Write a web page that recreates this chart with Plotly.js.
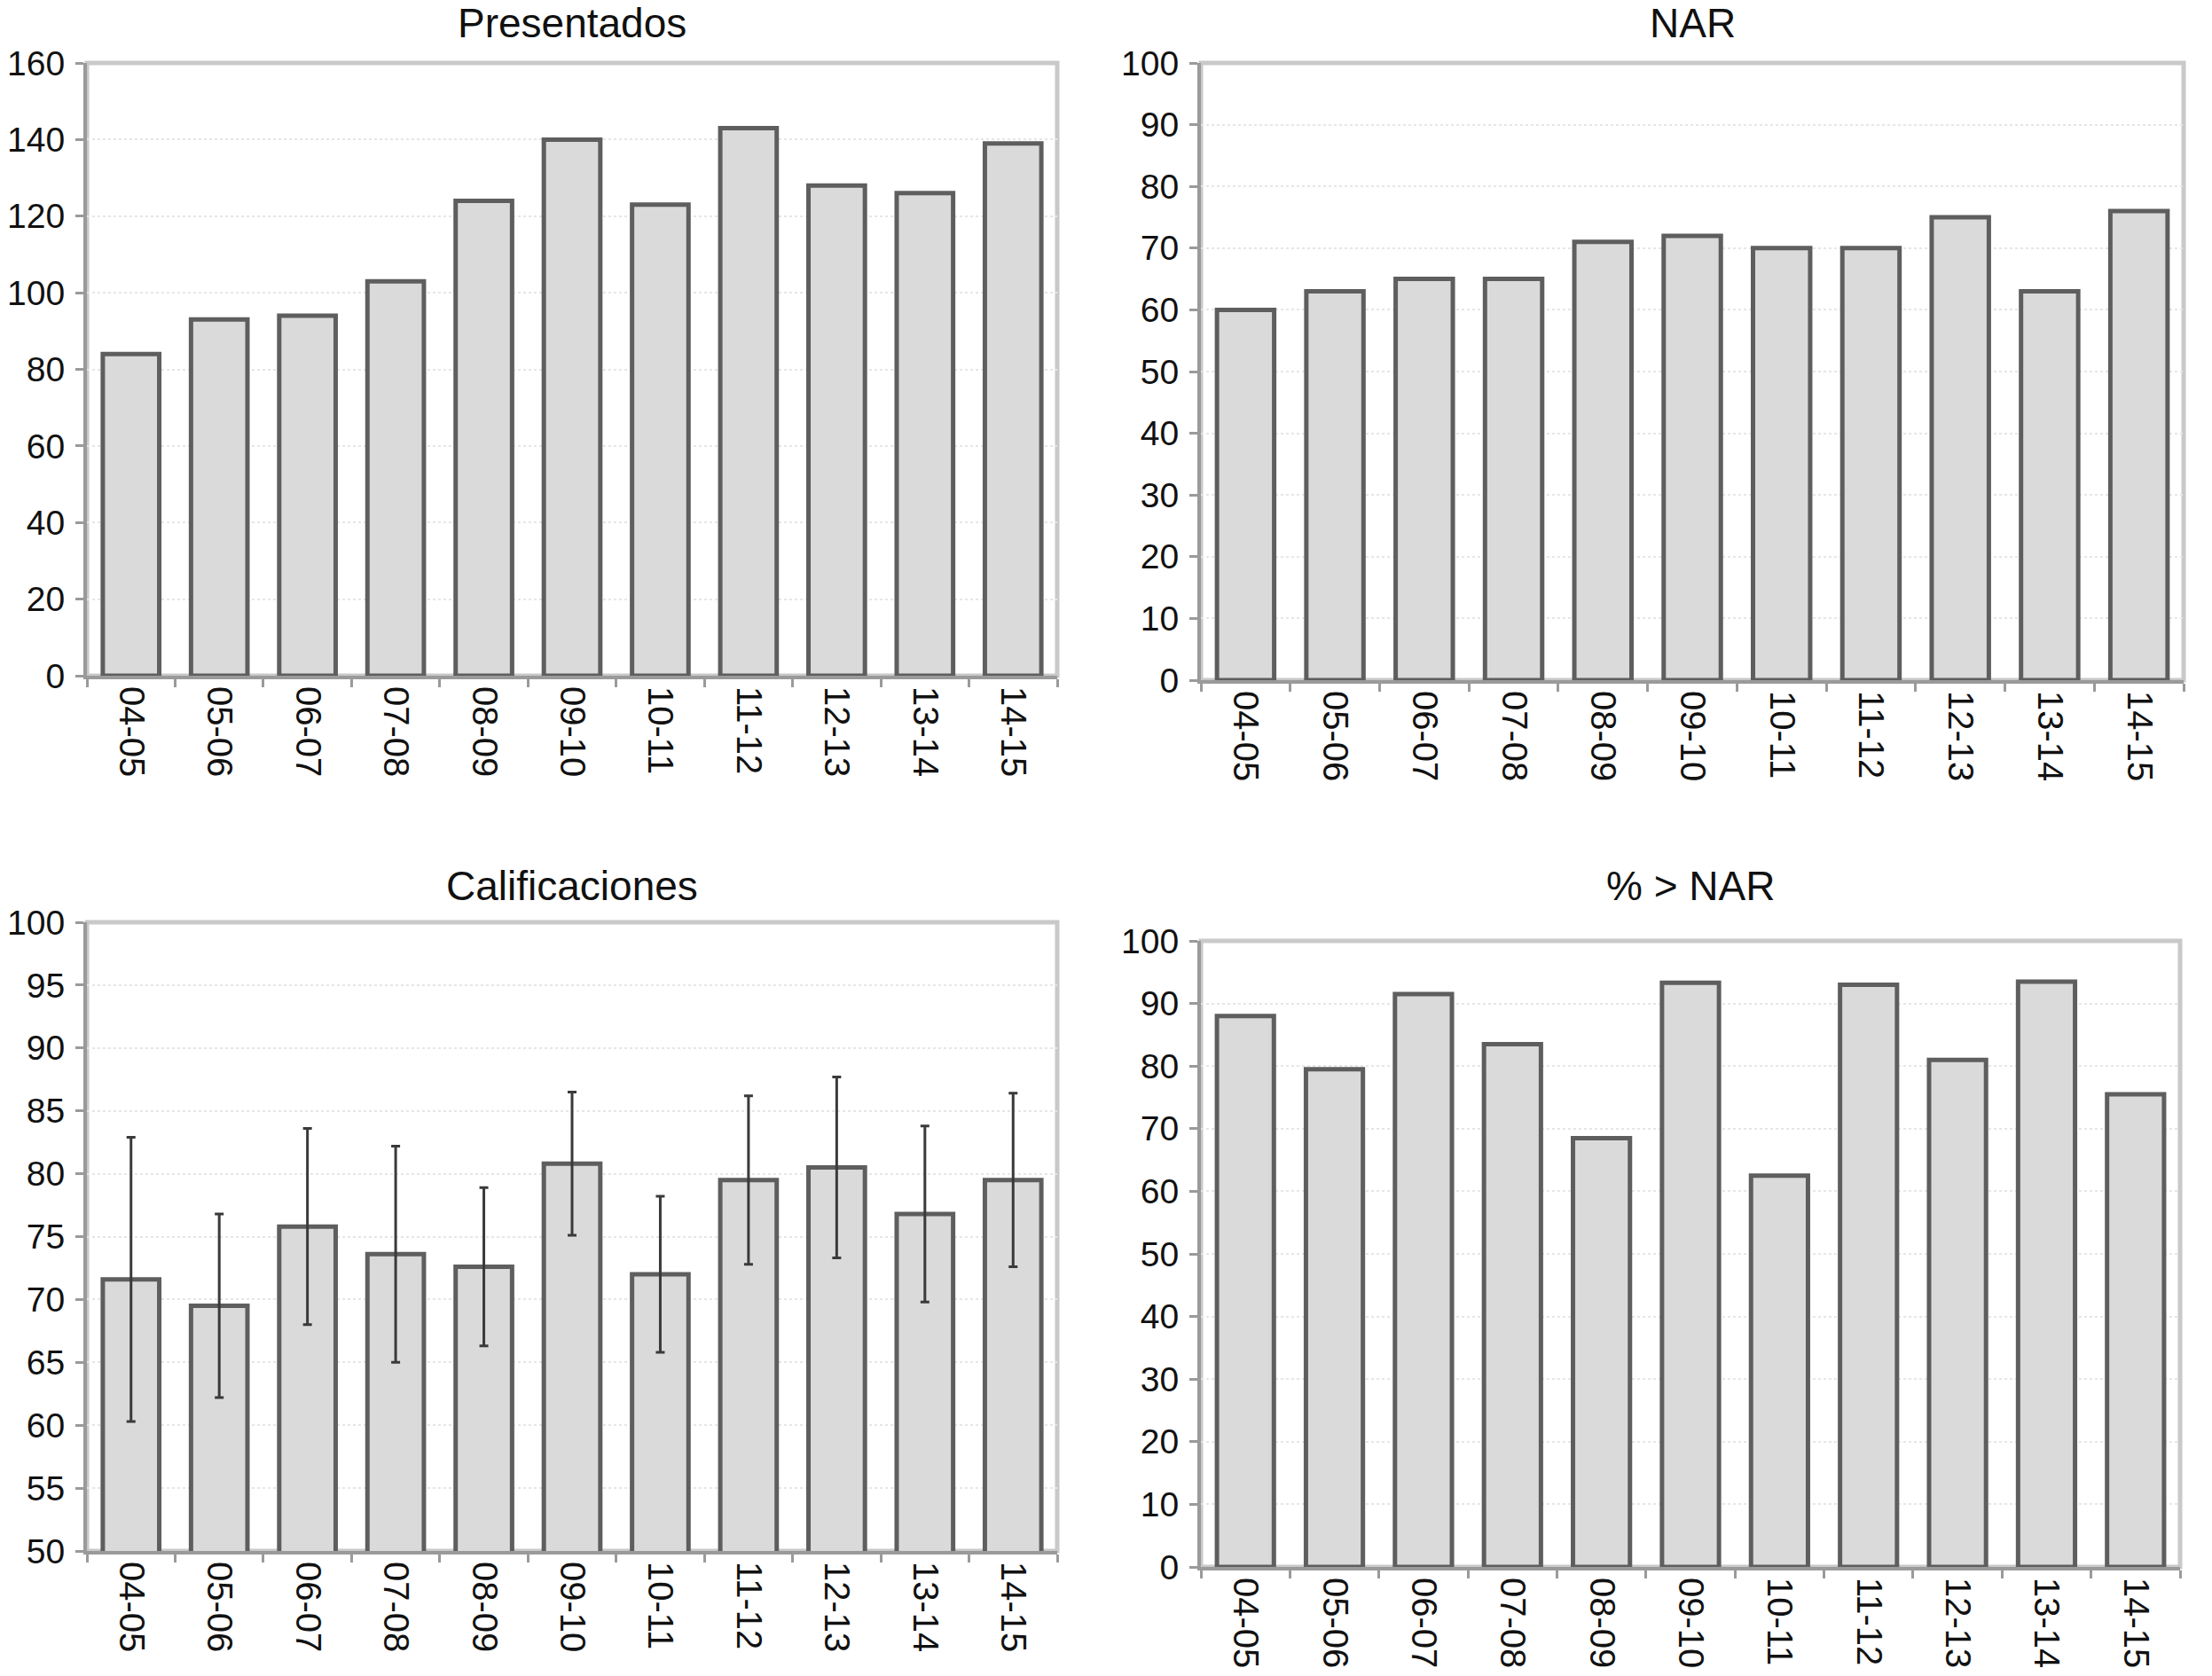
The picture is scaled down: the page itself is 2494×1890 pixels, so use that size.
<!DOCTYPE html>
<html>
<head>
<meta charset="utf-8">
<script src="https://cdn.plot.ly/plotly-3.0.1.min.js"></script>
<style>html,body{margin:0;padding:0;background:#fff;}#chart{width:2494px;height:1890px;}</style>
</head>
<body>
<div id="chart"></div>
<script>
const seasons = ["04-05","05-06","06-07","07-08","08-09","09-10","10-11","11-12","12-13","13-14","14-15"];
const presentados = [84, 93, 94, 103, 124, 140, 123, 143, 128, 126, 139];
const nar = [60, 63, 65, 65, 71, 72, 70, 70, 75, 63, 76];
const calificaciones = [71.6, 69.5, 75.8, 73.6, 72.6, 80.8, 72.0, 79.5, 80.5, 76.8, 79.5];
const calificacionesSD = [11.3, 7.3, 7.8, 8.6, 6.3, 5.7, 6.2, 6.7, 7.2, 7.0, 6.9];
const pctSobreNar = [88, 79.5, 91.5, 83.5, 68.5, 93.3, 62.5, 93, 81, 93.5, 75.5];
const panelTitles = ["Presentados", "NAR", "Calificaciones", "% > NAR"];

const FONT = "Liberation Sans, Arial, Helvetica, sans-serif";
const barFill = "#dadada";
const barLine = "#5e5e5e";

function barTrace(y, xa, ya, err) {
  const t = {
    type: "bar", x: seasons, y: y, xaxis: xa, yaxis: ya,
    marker: {color: barFill, line: {color: barLine, width: 5}},
    hoverinfo: "x+y", showlegend: false
  };
  if (err) {
    t.error_y = {type: "data", array: err, visible: true, color: "#3a3a3a", thickness: 3, width: 5};
  }
  return t;
}

const data = [
  barTrace(presentados, "x", "y"),
  barTrace(nar, "x2", "y2"),
  barTrace(calificaciones, "x3", "y3", calificacionesSD),
  barTrace(pctSobreNar, "x4", "y4")
];

function xax(domain, anchor) {
  return {
    domain: domain, anchor: anchor, type: "category",
    showline: true, linecolor: "#9a9a9a", linewidth: 4,
    ticks: "outside", tickson: "boundaries", ticklen: 9, tickwidth: 3, tickcolor: "#9a9a9a",
    tickangle: 90, tickfont: {family: FONT, size: 40, color: "#111"},
    showgrid: false, zeroline: false, fixedrange: true
  };
}
function yax(domain, anchor, range, dtick) {
  return {
    domain: domain, anchor: anchor, range: range, dtick: dtick, tick0: range[0],
    showline: true, linecolor: "#9a9a9a", linewidth: 4,
    ticks: "outside", ticklen: 9, tickwidth: 3, tickcolor: "#9a9a9a",
    tickfont: {family: FONT, size: 39, color: "#111"},
    ticklabelstandoff: 4,
    showgrid: true, gridcolor: "#e6e6e6", gridwidth: 2, griddash: "dot",
    zeroline: false, fixedrange: true
  };
}

const xL = [98/2494, 1192/2494];
const xR1 = [1354/2494, 2462/2494];
const xR2 = [1354/2494, 2458/2494];
const yT1 = [1 - 762/1890, 1 - 71/1890];
const yT2 = [1 - 767/1890, 1 - 71/1890];
const yB1 = [1 - 1749/1890, 1 - 1040/1890];
const yB2 = [1 - 1767/1890, 1 - 1061/1890];

const frames = ["", "2", "3", "4"].map(s => ({
  type: "rect", xref: "x" + s + " domain", yref: "y" + s + " domain",
  x0: 0, x1: 1, y0: 0, y1: 1, line: {color: "#c9c9c9", width: 5}, layer: "below"
}));

const titleY = [1 - 26/1890, 1 - 26/1890, 1 - 999/1890, 1 - 999/1890];
const annotations = ["", "2", "3", "4"].map((s, i) => ({
  text: panelTitles[i], xref: "x" + s + " domain", yref: "paper",
  x: 0.5, y: titleY[i], xanchor: "center", yanchor: "middle", showarrow: false,
  font: {family: FONT, size: 46, color: "#111"}
}));

const layout = {
  width: 2494, height: 1890,
  margin: {l: 0, r: 0, t: 0, b: 0},
  paper_bgcolor: "#ffffff", plot_bgcolor: "#ffffff",
  bargap: 0.36, showlegend: false,
  xaxis: xax(xL, "y"), yaxis: yax(yT1, "x", [0, 160], 20),
  xaxis2: xax(xR1, "y2"), yaxis2: yax(yT2, "x2", [0, 100], 10),
  xaxis3: xax(xL, "y3"), yaxis3: yax(yB1, "x3", [50, 100], 5),
  xaxis4: xax(xR2, "y4"), yaxis4: yax(yB2, "x4", [0, 100], 10),
  shapes: frames, annotations: annotations
};

Plotly.newPlot("chart", data, layout, {displayModeBar: false, staticPlot: true});
</script>
</body>
</html>
